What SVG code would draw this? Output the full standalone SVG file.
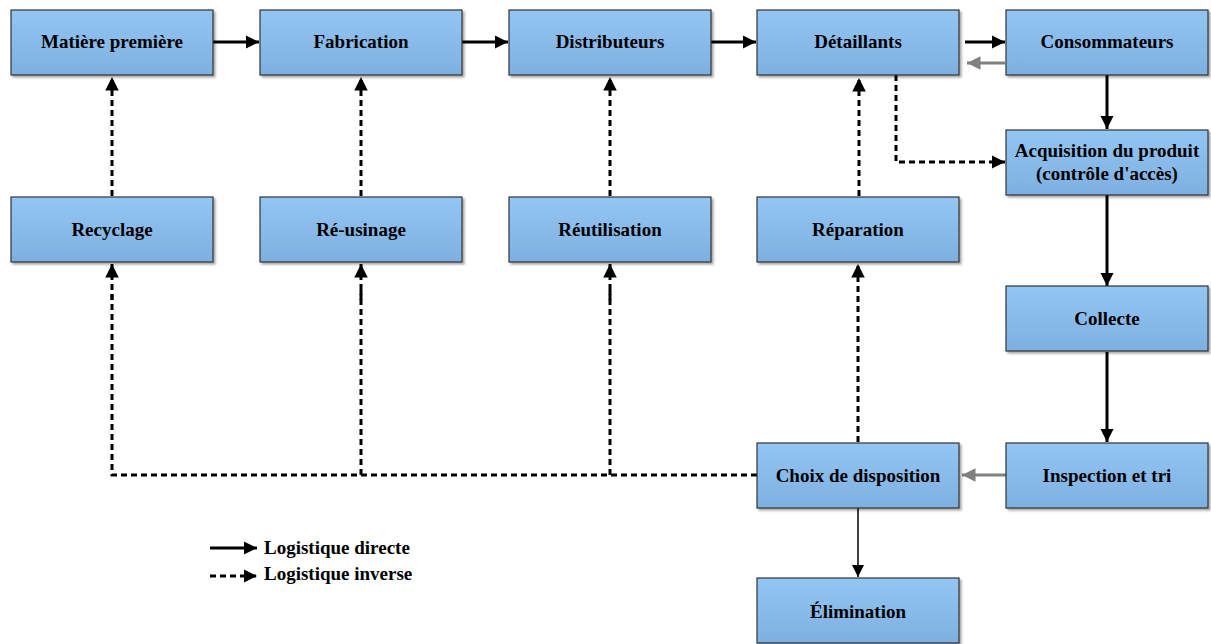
<svg xmlns="http://www.w3.org/2000/svg" width="1211" height="644" viewBox="0 0 1211 644">
<defs>
<linearGradient id="g" x1="0" y1="0" x2="0" y2="1">
<stop offset="0" stop-color="#94c6f4"/>
<stop offset="1" stop-color="#7db0e0"/>
</linearGradient>
<filter id="sh" x="-5%" y="-5%" width="115%" height="120%">
<feDropShadow dx="2" dy="2" stdDeviation="1" flood-color="#000" flood-opacity="0.35"/>
</filter>
<marker id="ab" viewBox="0 0 10 10" refX="10" refY="5" markerWidth="4.5" markerHeight="4.5" orient="auto" markerUnits="strokeWidth"><path d="M0,0 L10,5 L0,10 z" fill="#000"/></marker>
<marker id="ag" viewBox="0 0 10 10" refX="10" refY="5" markerWidth="4.5" markerHeight="4.5" orient="auto" markerUnits="strokeWidth"><path d="M0,0 L10,5 L0,10 z" fill="#808080"/></marker>
<marker id="at" viewBox="0 0 10 10" refX="10" refY="5" markerWidth="8" markerHeight="8" orient="auto" markerUnits="strokeWidth"><path d="M0,0 L10,5 L0,10 z" fill="#000"/></marker>
</defs>
<style>
.box{fill:url(#g);stroke:#333;stroke-width:1.2;filter:url(#sh)}
text{font-family:'Liberation Serif','Times New Roman','DejaVu Serif',serif;font-weight:bold;font-size:19px;fill:#000}
.t{text-anchor:middle}
.l{text-anchor:start}
.s{fill:none;stroke:#000;stroke-width:3;marker-end:url(#ab)}
.g{fill:none;stroke:#808080;stroke-width:3;marker-end:url(#ag)}
.d{fill:none;stroke:#000;stroke-width:3;stroke-dasharray:6 4}
.da{fill:none;stroke:#000;stroke-width:3;stroke-dasharray:6 4;marker-end:url(#ab)}
.th{fill:none;stroke:#000;stroke-width:1.5;marker-end:url(#at)}
</style>
<g id="connectors">
<path class="s" d="M213,42 H259"/>
<path class="s" d="M462,42 H508"/>
<path class="s" d="M711,42 H756"/>
<path class="s" d="M965,42 H1005"/>
<path class="g" d="M1005,63 H967"/>
<path class="s" d="M1107,75 V129"/>
<path class="s" d="M1107,195 V286"/>
<path class="s" d="M1107,352 V442"/>
<path class="g" d="M1006,475 H962"/>
<path class="th" d="M858,508 V577"/>
<path class="da" d="M896,75 V162 H1005"/>
<path class="da" d="M112,196 V77"/>
<path class="da" d="M361,196 V77"/>
<path class="da" d="M610,196 V77"/>
<path class="da" d="M858,442 V264"/>
<path class="da" d="M859,196 V78"/>
<path class="d" d="M757,475 H112 V290"/>
<path class="da" d="M112,300 V264"/>
<path class="d" d="M361,475 V290"/>
<path class="da" d="M361,300 V264"/>
<path class="d" d="M610,475 V290"/>
<path class="da" d="M610,300 V264"/>
<path class="s" d="M210,548 H257"/>
<path class="da" d="M210,576 H257"/>
</g>
<g id="n1"><rect class="box" x="11" y="10" width="202" height="65"/><text class="t" x="112" y="48">Matière première</text></g>
<g id="n2"><rect class="box" x="260" y="10" width="202" height="65"/><text class="t" x="361" y="48">Fabrication</text></g>
<g id="n3"><rect class="box" x="509" y="10" width="202" height="65"/><text class="t" x="610" y="48">Distributeurs</text></g>
<g id="n4"><rect class="box" x="757" y="10" width="202" height="65"/><text class="t" x="858" y="48">Détaillants</text></g>
<g id="n5"><rect class="box" x="1006" y="10" width="202" height="65"/><text class="t" x="1107" y="48">Consommateurs</text></g>
<g id="n6"><rect class="box" x="1006" y="130" width="202" height="65"/><text class="t" x="1107" y="157">Acquisition du produit</text><text class="t" x="1107" y="180">(contrôle d'accès)</text></g>
<g id="n7"><rect class="box" x="11" y="197" width="202" height="65"/><text class="t" x="112" y="236">Recyclage</text></g>
<g id="n8"><rect class="box" x="260" y="197" width="202" height="65"/><text class="t" x="361" y="236">Ré-usinage</text></g>
<g id="n9"><rect class="box" x="509" y="197" width="202" height="65"/><text class="t" x="610" y="236">Réutilisation</text></g>
<g id="n10"><rect class="box" x="757" y="197" width="202" height="65"/><text class="t" x="858" y="236">Réparation</text></g>
<g id="n11"><rect class="box" x="1006" y="286" width="202" height="65"/><text class="t" x="1107" y="325">Collecte</text></g>
<g id="n12"><rect class="box" x="1006" y="443" width="202" height="65"/><text class="t" x="1107" y="482">Inspection et tri</text></g>
<g id="n13"><rect class="box" x="757" y="443" width="202" height="65"/><text class="t" x="858" y="482">Choix de disposition</text></g>
<g id="n14"><rect class="box" x="757" y="578" width="202" height="65"/><text class="t" x="858" y="618">Élimination</text></g>
<g id="legend">
<text class="l" x="264" y="554">Logistique directe</text>
<text class="l" x="264" y="580">Logistique inverse</text>
</g>
</svg>
